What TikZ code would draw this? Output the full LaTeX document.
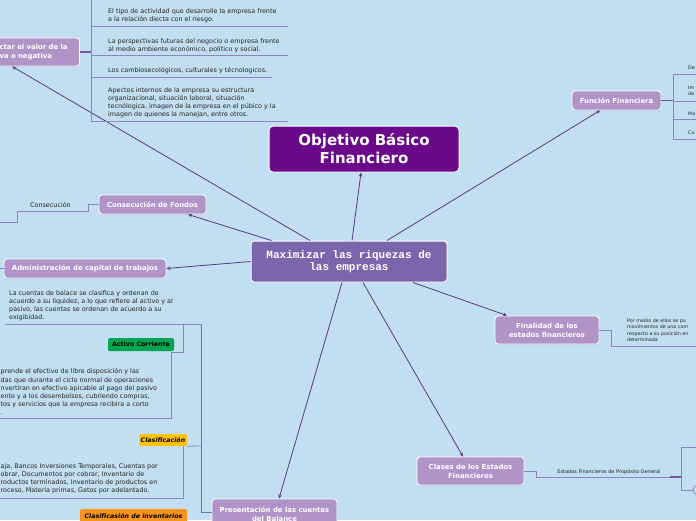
\documentclass[tikz,border=0pt]{standalone}
\usepackage{fontspec}
\setmainfont{DejaVu Sans}
\newfontfamily\monof{Liberation Mono}
\usetikzlibrary{arrows.meta,shadows}
\definecolor{bg}{RGB}{194,222,241}
\definecolor{subc}{RGB}{177,148,199}
\definecolor{ctrc}{RGB}{123,102,172}
\definecolor{objc}{RGB}{106,9,137}
\definecolor{connc}{RGB}{88,58,128}
\definecolor{brc}{RGB}{146,130,192}
\definecolor{brdark}{RGB}{128,108,178}
\definecolor{stubc}{RGB}{118,86,158}
\definecolor{txt}{RGB}{38,38,38}
\definecolor{tgreen}{RGB}{0,166,81}
\definecolor{tyellow}{RGB}{255,194,14}
\definecolor{torange}{RGB}{247,148,29}
\begin{document}
\begin{tikzpicture}[x=1pt,y=-1pt,
  sub/.style={draw=white, line width=0.9pt, fill=subc, rounded corners=3pt, text=white,
    font=\bfseries\fontsize{6.9}{9}\selectfont, inner sep=0pt, align=center,
    drop shadow={shadow xshift=0.4pt,shadow yshift=-0.9pt,opacity=0.3}},
  note/.style={inner sep=0pt, align=left, text=txt, font=\fontsize{6.4}{8.1}\selectfont, anchor=north west},
  tiny/.style={inner sep=0pt, align=left, text=txt, font=\fontsize{4.8}{6.4}\selectfont, anchor=north west},
  tag/.style={inner sep=0pt, rounded corners=1.5pt, text=black, font=\bfseries\itshape\fontsize{6.3}{8}\selectfont},
  conn/.style={draw=connc, line width=0.8pt, -{Stealth[length=4pt,width=3.5pt]}},
  br/.style={draw=brc, line width=0.8pt},
  stub/.style={draw=stubc, line width=1.8pt}]
\clip (0,0) rectangle (696,520);
\fill[bg] (0,0) rectangle (696,520);

% main nodes
\node[draw=white, line width=1pt, fill=objc, rounded corners=4pt, text=white, align=center,
  font=\bfseries\fontsize{15}{18}\selectfont, minimum width=190pt, minimum height=46pt, inner sep=0pt,
  drop shadow={shadow xshift=0.4pt,shadow yshift=-0.9pt,opacity=0.3}] (obj) at (364,149) {Objetivo Básico\\Financiero};
\node[draw=white, line width=1pt, fill=ctrc, rounded corners=3pt, text=white, align=center,
  font=\monof\bfseries\fontsize{11}{12.5}\selectfont, minimum width=196pt, minimum height=41pt, inner sep=0pt,
  drop shadow={shadow xshift=0.4pt,shadow yshift=-0.9pt,opacity=0.3}] (ctr) at (349,261.5) {Maximizar las riquezas de\\las empresas};

\node[sub, minimum width=89pt, minimum height=19pt] (fun) at (616.5,100.5) {Función Financiera};
\node[sub, minimum width=107pt, minimum height=19pt] (cons) at (152.5,204.5) {Consecución de Fondos};
\node[sub, minimum width=162pt, minimum height=19pt] (adm) at (85,268.5) {Administración de capital de trabajos};
\node[sub, minimum width=104pt, minimum height=28pt] (fin) at (547,330) {Finalidad de los\\estados financieros};
\node[sub, minimum width=107pt, minimum height=28pt] (cla) at (470.5,471) {Clases de los Estados\\Financieros};
\node[sub, minimum width=125pt, minimum height=30pt] (pres) at (274.5,514) {Presentación de las cuentas\\del Balance};
\node[sub, anchor=east, text width=68pt, align=left, inner xsep=12pt, minimum height=28pt] (afe) at (80,52) {ctar el valor de la\\va o negativa};

% connectors from centre
\draw[conn] ([xshift=3pt]ctr.north) -- ([xshift=-3pt]obj.south);
\draw[conn] ([xshift=38pt]ctr.north) -- ([xshift=-16.5pt]fun.south);
\draw[conn] ([xshift=-39pt]ctr.north) -- ([xshift=25pt]afe.south west);
\draw[conn] ([xshift=21pt]ctr.north west) -- ([xshift=35.5pt]cons.south);
\draw[conn] (ctr.west) -- (adm.east);
\draw[conn] ([xshift=-7pt]ctr.south) -- ([xshift=4.5pt]pres.north);
\draw[conn] ([xshift=14pt]ctr.south) -- ([xshift=-7.5pt]cla.north);
\draw[conn] ([xshift=64pt]ctr.south) -- ([xshift=-40pt]fin.north);

% top-left branch
\node[note] (i1) at (108,8.6) {El tipo de actividad que desarrolle la empresa frente\\a la relación diecta con el riesgo.};
\node[note] (i2) at (108,38.6) {La perspectivas futuras del negocio o empresa frente\\al medio ambiente económico, político y social.};
\node[note] (i3) at (108,67) {Los cambiosecológicos, culturales y técnologicos.};
\node[note] (i4) at (108,87.6) {Apectos internos de la empresa su estructura\\organizacional, situación laboral, situación\\tecnólogica, imagen de la empresa en el púbico y la\\imagen de quienes la manejan, entre otros.};
\coordinate (spA) at (91,52);
\draw[br] (91,-2) -- (91,121);
\draw[br] (91,26) -- (288,26);
\draw[br] (91,55) -- (288,55);
\draw[br] (91,77) -- (272,77);
\draw[br] (91,121) -- (288,121);
\draw[stub] (afe.east) -- (spA);

% Funcion financiera branch
\coordinate (spF) at (673,100.5);
\draw[br] (673,74) -- (673,139);
\draw[br] (673,74) -- (700,74);
\draw[br] (673,101) -- (700,101);
\draw[br] (673,119) -- (700,119);
\draw[br] (673,139) -- (700,139);
\draw[stub] (fun.east) -- (spF);
\node[tiny, anchor=west] (f1) at (688,68) {De};
\node[tiny] (f2) at (688,85.5) {Im\\de};
\node[tiny, anchor=west] (f3) at (688,114) {Ma};
\node[tiny, anchor=west] (f4) at (688,133) {Cu};

% Finalidad branch
\draw[br] (fin.east) -- (611,330) -- (611,346) -- (700,346);
\node[tiny] (fintx) at (627,318.4) {Por medio de ellos se pu\\movimientos de una com\\respecto a su posición en\\determinada};

% Clases branch
\draw[br] (cla.east) -- (536,471) -- (536,477) -- (681,477);
\draw[stub, line width=1.4pt] (670,477) -- (681,477);
\draw[br] (681,447) -- (681,490);
\draw[br] (681,447) -- (700,447);
\draw[br] (681,490) -- (693,490);
\draw[br, fill=bg] (698,490) circle (5pt);
\node[inner sep=0pt, text=txt, font=\fontsize{5}{6}\selectfont, anchor=south] (clalbl) at (609,475) {Estados Financieros de Propósito General};

% Consecucion branch
\draw[br] (cons.west) -- (88,204.5) -- (88,211) -- (17,211) -- (17,222.5) -- (-3,222.5);
\node[note, anchor=center] (conslbl) at (50.5,204.5) {Consecución};

% Administracion branch
\draw[br] (adm.west) -- (-3,268.5);

% Balance branch
\draw[br, draw=brdark, line width=1pt] ([yshift=2pt]pres.west) -- (201,512) -- (201,324);
\draw[br] (201,324) -- (5,324);
\node[note] (bal1) at (9,290) {La cuentas de balace se clasifica y ordenan de\\acuerdo a su liquidez, a lo que refiere al activo y al\\pasivo, las cuentas se ordenan de acuerdo a su\\exigibidad.};
\node[tag, fill=tgreen, font=\bfseries\fontsize{6.3}{8}\selectfont, minimum width=66pt, minimum height=13pt] (act) at (141,344.5) {Activo Corriente};
\draw[br] (183,324) -- (183,352) -- (171,352) -- (171,418) -- (-3,418);
\node[note] (acttx) at (0.5,368.6) {prende el efectivo de libre disposición y las\\das que durante el ciclo normal de operaciones\\nvertíran en efectivo apicable al pago del pasivo\\ente y a los desembolsos, cubriendo compras,\\tos y servicios que la empresa recibira a corto\\.};
\node[tag, fill=tyellow, minimum width=48pt, minimum height=12pt] (clas) at (163,440) {Clasificación};
\draw[br] (clas.south east) -- (201,446);
\draw[br] (183,446) -- (183,498) -- (-3,498);
\node[note] (clastx) at (0.5,463.6) {aja, Bancos Inversiones Temporales, Cuentas por\\obrar, Documentos por cobrar, Inventario de\\roductos terminados, Inventario de productos en\\roceso, Materia primas, Gatos por adelantado.};
\node[tag, fill=torange, minimum width=107pt, minimum height=14pt] (inv) at (133.5,516) {Clasificasión de inventarios};
\end{tikzpicture}
\end{document}
